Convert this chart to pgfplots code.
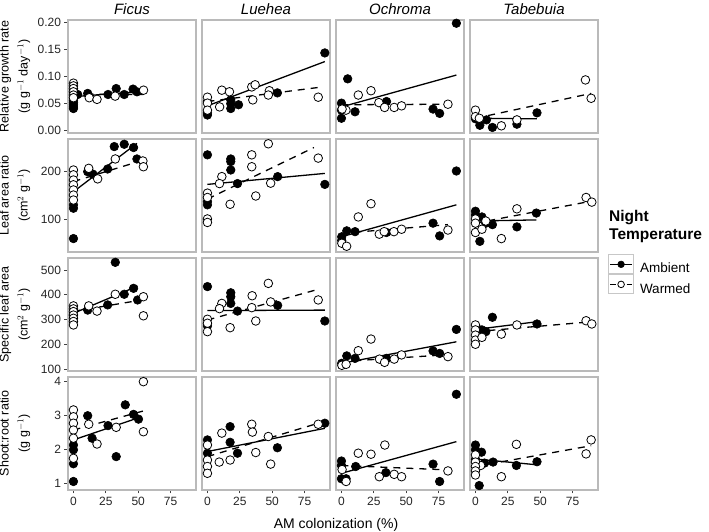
\documentclass[border=0pt]{standalone}
\usepackage{pgfplots}
\pgfplotsset{compat=1.18}
\usepackage{fontspec}
\setmainfont{Liberation Sans}
\pgfplotsset{
  panel/.style={scale only axis, width=128pt, height=113pt, anchor=south west,
    xmin=-4.2, xmax=94.6, clip=false,
    axis line style={draw=black!27, line width=1.1pt},
    tick align=outside, major tick length=3.5pt,
    major tick style={draw=black!75, line width=0.7pt},
    xtick pos=left, ytick pos=left,
    xtick=\empty, ytick=\empty,
    ticklabel style={font=\fontsize{12}{12}\selectfont, text=black!85},
    /pgf/number format/assume math mode=true,
    ylabel style={at={(axis description cs:-0.414,0.5)}, anchor=center, align=center,
      font=\fontsize{12.5}{19}\selectfont},
  },
  xt/.style={xtick={0,25,50,75}, xticklabels={0,25,50,75}},
  r1/.style={ymin=-0.0043, ymax=0.205},
  r2/.style={ymin=61.6, ymax=323, yminorticks=false},
  r3/.style={ymin=92, ymax=548.5},
  r4/.style={ymin=0.80, ymax=4.117},
  y1/.style={ytick={0,0.05,0.1,0.15,0.2}, yticklabels={0.00,0.05,0.10,0.15,0.20}},
  y2/.style={ytick={100,200}, yticklabels={100,200}},
  y3/.style={ytick={100,200,300,400,500}, yticklabels={100,200,300,400,500}},
  y4/.style={ytick={1,2,3,4}, yticklabels={1,2,3,4}},
  amb/.style={only marks, mark=*, mark size=4.3pt, mark options={draw=black, fill=black, line width=0.6pt}},
  warm/.style={only marks, mark=*, mark size=4.3pt, mark options={draw=black, fill=white, line width=0.8pt}},
  ambfit/.style={no marks, black, line width=1.3pt},
  warmfit/.style={no marks, black, line width=1.3pt, dash pattern=on 7pt off 6pt},
  legamb/.style={/pgfplots/legend image code/.code={
    \draw[draw=black!22, fill=white, line width=0.8pt] (0pt,-5pt) rectangle (25pt,14pt);
    \draw[black, line width=1.2pt] (1.5pt,4.5pt) -- (23.5pt,4.5pt);
    \draw[black, fill=black, line width=0.6pt] (12.5pt,4.5pt) circle (3.3pt);}},
  legwarm/.style={/pgfplots/legend image code/.code={
    \draw[draw=black!22, fill=white, line width=0.8pt] (0pt,-5pt) rectangle (25pt,14pt);
    \draw[black, line width=1.2pt] (1.5pt,4.5pt) -- (7pt,4.5pt);
    \draw[black, line width=1.2pt] (18pt,4.5pt) -- (23.5pt,4.5pt);
    \draw[black, fill=white, line width=0.8pt] (12.5pt,4.5pt) circle (3.3pt);}},
}
\begin{document}
\begin{tikzpicture}
\useasboundingbox (0,0) rectangle (709pt,532pt);
% ---------------- Row 1: RGR ----------------
\begin{axis}[panel, r1, y1, at={(68pt,399pt)},
  ylabel={Relative growth rate\\(g g$^{-1}$ day$^{-1}$)}]
\addplot[ambfit] coordinates {(0,0.063) (49,0.072)};
\addplot[warmfit] coordinates {(0,0.068) (54,0.067)};
\addplot[amb] coordinates {(0,0.056) (0,0.052) (0,0.048) (0,0.044) (0,0.041) (3.3,0.067) (11,0.069) (26.7,0.067) (33,0.078) (39.2,0.067) (46,0.077) (49,0.072)};
\addplot[warm] coordinates {(0,0.088) (0,0.083) (0,0.078) (0,0.072) (0,0.066) (0,0.061) (12.2,0.061) (18.2,0.058) (32.2,0.064) (54.1,0.075)};
\end{axis}
\begin{axis}[panel, r1, at={(202pt,399pt)}]
\addplot[ambfit] coordinates {(0,0.046) (90.6,0.128)};
\addplot[warmfit] coordinates {(0,0.054) (85.5,0.080)};
\addplot[amb] coordinates {(90.6,0.144) (0,0.054) (0,0.029) (0,0.033) (18,0.057) (18,0.050) (18,0.041) (24,0.048) (54,0.070)};
\addplot[warm] coordinates {(0,0.062) (0,0.051) (0,0.038) (11.1,0.075) (9.4,0.044) (17,0.072) (34.2,0.081) (36.8,0.085) (35,0.057) (47.8,0.074) (47,0.066) (85.5,0.062)};
\end{axis}
\begin{axis}[panel, r1, at={(336pt,399pt)}]
\addplot[ambfit] coordinates {(0,0.044) (88.7,0.103)};
\addplot[warmfit] coordinates {(0,0.048) (82.2,0.049)};
\addplot[amb] coordinates {(88.7,0.199) (4.8,0.096) (0,0.051) (0,0.038) (0,0.023) (10.5,0.035) (34.8,0.054) (70.7,0.040) (75.8,0.032)};
\addplot[warm] coordinates {(13,0.066) (22.8,0.074) (3.5,0.038) (0.5,0.040) (28.9,0.052) (33.3,0.043) (40.7,0.043) (46.4,0.046) (82.2,0.049)};
\end{axis}
\begin{axis}[panel, r1, at={(470pt,399pt)}]
\addplot[ambfit] coordinates {(0,0.023) (47.5,0.022)};
\addplot[warmfit] coordinates {(0,0.023) (89.3,0.069)};
\addplot[amb] coordinates {(3.4,0.010) (8.5,0.020) (13.1,0.006) (32,0.012) (47.5,0.033) (0,0.022)};
\addplot[warm] coordinates {(84.9,0.094) (89.3,0.060) (0,0.038) (0,0.026) (3,0.023) (20,0.009) (32,0.020)};
\end{axis}
% ---------------- Row 2: LAR ----------------
\begin{axis}[panel, ymode=log, r2, y2, at={(68pt,280pt)},
  ylabel={Leaf area ratio\\(cm$^{2}$ g$^{-1}$)}]
\addplot[ambfit] coordinates {(0,149) (49,303)};
\addplot[warmfit] coordinates {(0,173) (54,237)};
\addplot[amb] coordinates {(0,75) (0,123) (0,117) (11,200) (15,193) (26.4,208) (31.5,289) (39.2,299) (46.4,285) (49,241)};
\addplot[warm] coordinates {(0,205) (0,191) (0,177) (0,165) (0,153) (0,142) (0,132) (11.8,210) (18.7,180) (32.3,241) (53.6,234) (54,215)};
\end{axis}
\begin{axis}[panel, ymode=log, r2, at={(202pt,280pt)}]
\addplot[ambfit] coordinates {(0,166) (90.6,195)};
\addplot[warmfit] coordinates {(0,134) (82.2,285)};
\addplot[amb] coordinates {(0,256) (18,241) (18,232) (18,205) (23.2,168) (54.2,186) (90.6,166) (0,129) (0,123)};
\addplot[warm] coordinates {(34.2,256) (47,301) (34.2,215) (11.1,186) (9.3,168) (48.8,169) (85.5,244) (37.3,140) (17.5,124) (0,146) (0,137) (0,100) (0,95)};
\end{axis}
\begin{axis}[panel, ymode=log, r2, at={(336pt,280pt)}]
\addplot[ambfit] coordinates {(0,77) (88.7,123)};
\addplot[warmfit] coordinates {(0,81) (82.2,92)};
\addplot[amb] coordinates {(88.7,202) (0.2,77) (0.2,73) (4.1,84) (10.5,83) (34.8,82) (70.7,94) (75.8,78)};
\addplot[warm] coordinates {(22.8,125) (13,103) (0.3,70) (4,67) (29.2,80) (33,83) (40.5,83) (46.4,86) (82.2,85)};
\end{axis}
\begin{axis}[panel, ymode=log, r2, at={(470pt,280pt)},
  legend style={at={(1.078,-0.02)}, anchor=north west, draw=none, fill=none, inner sep=0pt,
    row sep=0pt, column sep=6pt, font=\fontsize{13.5}{14}\selectfont, nodes={inner sep=0pt}},
  legend cell align=left]
\addlegendimage{legamb}
\addlegendentry{Ambient}
\addlegendimage{legwarm}
\addlegendentry{Warmed}
\addplot[ambfit] coordinates {(0,97) (47,98.6)};
\addplot[warmfit] coordinates {(0,94) (89.8,130)};
\addplot[amb] coordinates {(47,109) (32,89) (0,112) (0,106) (3.4,72) (5,103) (8,94) (13.1,92)};
\addplot[warm] coordinates {(85.4,137) (89.8,128) (32,116) (20,75) (0,100) (0,94) (0,82) (5,86) (8,97)};
\end{axis}
% ---------------- Row 3: SLA ----------------
\begin{axis}[panel, r3, y3, at={(68pt,161pt)},
  ylabel={Specific leaf area\\(cm$^{2}$ g$^{-1}$)}]
\addplot[ambfit] coordinates {(0,325) (49.5,435)};
\addplot[warmfit] coordinates {(0,333) (54,380)};
\addplot[amb] coordinates {(32.3,531) (39.2,402) (46.4,426) (49.5,379) (26.4,359) (11,338) (0,318)};
\addplot[warm] coordinates {(32.3,402) (54,392) (54,315) (18.2,334) (11.8,355) (0,355) (0,343) (0,332) (0,318) (0,305) (0,292) (0,278)};
\end{axis}
\begin{axis}[panel, r3, at={(202pt,161pt)}]
\addplot[ambfit] coordinates {(0,336) (90.6,338)};
\addplot[warmfit] coordinates {(0,298) (85.5,422)};
\addplot[amb] coordinates {(0,433) (18,408) (18,392) (18,365) (54.2,357) (23.2,334) (90.6,294) (0,274)};
\addplot[warm] coordinates {(47,446) (34.5,396) (11.1,365) (9.3,344) (34.2,348) (48.8,371) (85.5,379) (37.3,294) (17.5,267) (0,301) (0,285) (0,251)};
\end{axis}
\begin{axis}[panel, r3, at={(336pt,161pt)}]
\addplot[ambfit] coordinates {(0,123) (88.7,210)};
\addplot[warmfit] coordinates {(0,130) (82.2,158)};
\addplot[amb] coordinates {(88.7,260) (4.1,153) (10.5,143) (0.2,123) (34.8,143) (70.7,173) (75.8,163)};
\addplot[warm] coordinates {(22.8,221) (13,174) (0.3,115) (3.6,119) (29.4,140) (33.3,127) (40.7,140) (46.4,157) (82.2,150)};
\end{axis}
\begin{axis}[panel, r3, at={(470pt,161pt)}]
\addplot[ambfit] coordinates {(0,260) (47.5,291)};
\addplot[warmfit] coordinates {(0,251) (89.8,291)};
\addplot[amb] coordinates {(47.5,282) (13.1,309) (0.8,268) (5,258) (8,251)};
\addplot[warm] coordinates {(85.4,295) (89.8,282) (32,278) (20,241) (0,278) (0,258) (0,237) (0,217) (0,200) (5,228)};
\end{axis}
% ---------------- Row 4: Shoot:root ----------------
\begin{axis}[panel, r4, y4, xt, at={(68pt,42pt)},
  ylabel={Shoot:root ratio\\(g g$^{-1}$)}]
\addplot[ambfit] coordinates {(0,2.27) (50.2,2.92)};
\addplot[warmfit] coordinates {(0,2.56) (54,3.12)};
\addplot[amb] coordinates {(40,3.30) (46.4,3.02) (50.2,2.88) (33,1.78) (26.7,2.69) (11,2.98) (14.4,2.32) (0,1.98) (0,1.57) (0,1.05) (0,2.12)};
\addplot[warm] coordinates {(54,3.98) (54,2.51) (33,2.64) (11.8,2.73) (18.2,2.15) (0,3.15) (0,2.95) (0,2.76) (0,2.56) (0,2.32) (0,1.73)};
\end{axis}
\begin{axis}[panel, r4, xt, at={(202pt,42pt)}]
\addplot[ambfit] coordinates {(0,1.93) (90.6,2.61)};
\addplot[warmfit] coordinates {(0,1.78) (85.5,2.76)};
\addplot[amb] coordinates {(90.6,2.76) (17.5,2.66) (17.5,2.20) (23.2,1.88) (54,2.04) (0,2.27) (0,1.88)};
\addplot[warm] coordinates {(85.5,2.73) (34.2,2.73) (34.7,2.50) (47,2.37) (11.1,2.47) (37.3,1.90) (48.8,1.56) (17.5,1.68) (9.1,1.62) (0,2.12) (0,1.68) (0,1.49) (0,1.29)};
\end{axis}
\begin{axis}[panel, r4, xt, at={(336pt,42pt)}]
\addplot[ambfit] coordinates {(0,1.29) (88.7,2.22)};
\addplot[warmfit] coordinates {(0,1.52) (82.2,1.39)};
\addplot[amb] coordinates {(88.7,3.61) (0,1.65) (0,1.52) (0,1.13) (3.6,1.13) (11,1.49) (34.3,1.31) (70.7,1.56) (75.8,1.05)};
\addplot[warm] coordinates {(33.5,2.12) (13,1.88) (22.8,1.85) (0.5,1.40) (3.6,1.05) (29.2,1.19) (40.7,1.26) (46.4,1.19) (82.2,1.36)};
\end{axis}
\begin{axis}[panel, r4, xt, at={(470pt,42pt)}]
\addplot[ambfit] coordinates {(0,1.71) (47.5,1.54)};
\addplot[warmfit] coordinates {(0,1.49) (89.3,2.10)};
\addplot[amb] coordinates {(31.6,1.52) (47.5,1.63) (13.6,1.62) (2.9,0.93) (4.7,1.91) (7,1.59) (0,2.12) (0,1.98) (0,1.70)};
\addplot[warm] coordinates {(89.3,2.27) (85.4,1.86) (31.6,2.14) (20,1.19) (4,1.52) (0,1.83) (0,1.62) (0,1.49) (0,1.36) (0,1.24)};
\end{axis}
% ---------------- Titles ----------------
\foreach \xc/\nm in {132/Ficus, 266/Luehea, 400/Ochroma, 534/Tabebuia}
  \node[anchor=base, font=\itshape\fontsize{15}{15}\selectfont, inner sep=0pt] at (\xc pt,517pt) {\nm};
\node[anchor=base, font=\fontsize{14}{14}\selectfont, inner sep=0pt] at (336pt,3pt) {AM colonization (\%)};
\node[anchor=base west, font=\bfseries\fontsize{15.5}{16}\selectfont, inner sep=0pt] at (609pt,310.3pt) {Night};
\node[anchor=base west, font=\bfseries\fontsize{15.5}{16}\selectfont, inner sep=0pt] at (609pt,292pt) {Temperature};
\end{tikzpicture}
\end{document}
